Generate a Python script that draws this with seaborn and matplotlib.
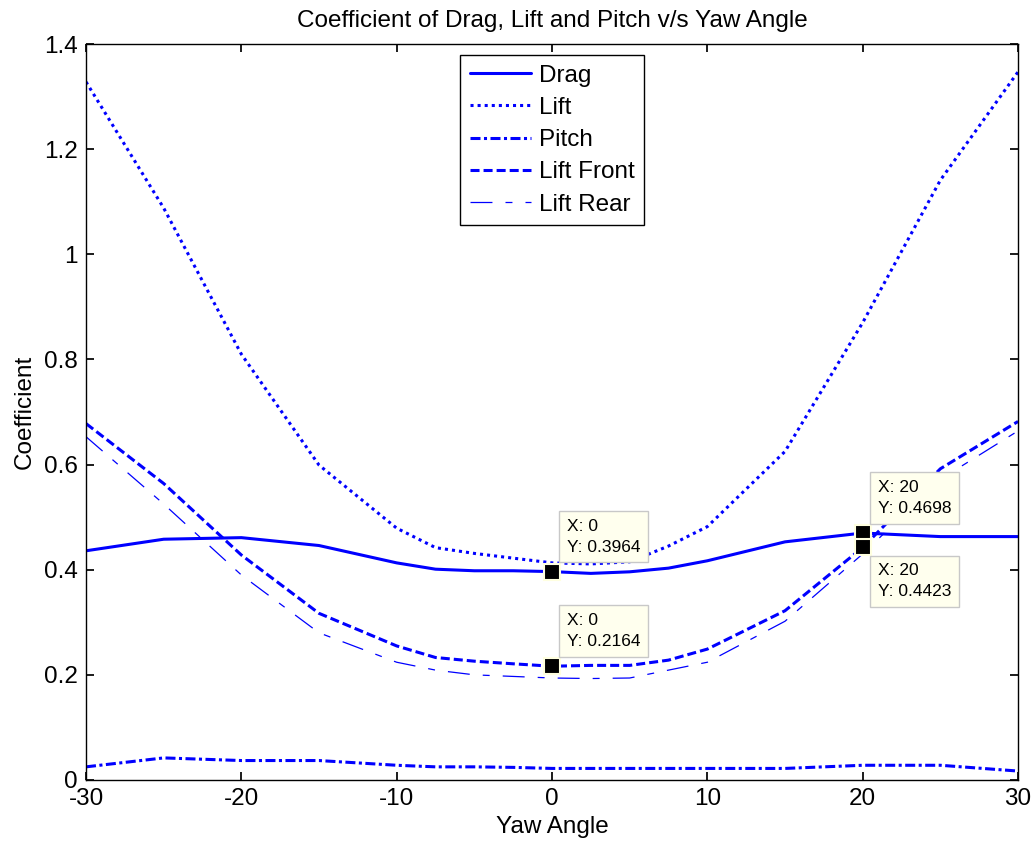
import matplotlib
matplotlib.use('Agg')
import matplotlib.pyplot as plt
import seaborn as sns

# yaw angles (deg) and coefficients
yaw = [-30, -25, -20, -15, -10, -7.5, -5, -2.5, 0, 2.5, 5, 7.5, 10, 15, 20, 25, 30]
drag = [0.436, 0.458, 0.461, 0.446, 0.413, 0.401, 0.398, 0.398, 0.3964,
        0.393, 0.396, 0.403, 0.417, 0.453, 0.4698, 0.463, 0.463]
lift = [1.328, 1.088, 0.81, 0.599, 0.479, 0.442, 0.431, 0.422, 0.413,
        0.411, 0.415, 0.445, 0.482, 0.625, 0.87, 1.141, 1.347]
pitch = [0.025, 0.042, 0.037, 0.037, 0.028, 0.025, 0.025, 0.024, 0.022,
         0.022, 0.022, 0.022, 0.022, 0.022, 0.028, 0.028, 0.017]
lift_front = [0.678, 0.564, 0.428, 0.317, 0.255, 0.233, 0.226, 0.221, 0.2164,
              0.218, 0.218, 0.228, 0.249, 0.322, 0.4423, 0.592, 0.682]
lift_rear = [0.653, 0.525, 0.39, 0.28, 0.224, 0.209, 0.2, 0.197, 0.194,
             0.193, 0.194, 0.209, 0.224, 0.302, 0.43, 0.572, 0.664]

# data cursors: (x, y, placement of the tip)
cursors = [(0, 0.3964, 'above'), (0, 0.2164, 'above'),
           (20, 0.4698, 'above'), (20, 0.4423, 'below')]

sns.set_theme(style='ticks', rc={
    'xtick.direction': 'in', 'ytick.direction': 'in',
    'xtick.top': True, 'ytick.right': True,
    'xtick.major.size': 5.5, 'ytick.major.size': 5.5,
    'axes.linewidth': 1.0, 'axes.edgecolor': 'black',
    'text.color': 'black', 'axes.labelcolor': 'black',
    'xtick.color': 'black', 'ytick.color': 'black',
    'lines.scale_dashes': False, 'axes.unicode_minus': False,
})
plt.rcParams['font.family'] = ['Liberation Sans', 'DejaVu Sans']

fig = plt.figure(figsize=(10.35, 8.48), dpi=100)
ax = fig.add_axes([0.0831, 0.0802, 0.9005, 0.8679])

fs = 17.5
blue = '#0000ff'
sns.lineplot(x=yaw, y=drag, ax=ax, color=blue, lw=2.2, label='Drag')
sns.lineplot(x=yaw, y=lift, ax=ax, color=blue, lw=2.2, label='Lift',
             linestyle=(0, (2.2, 2.9)))
sns.lineplot(x=yaw, y=pitch, ax=ax, color=blue, lw=2.2, label='Pitch',
             linestyle=(0, (7.2, 2.5, 2.2, 2.5)))
sns.lineplot(x=yaw, y=lift_front, ax=ax, color=blue, lw=2.2, label='Lift Front',
             linestyle=(0, (6.5, 2.9)))
sns.lineplot(x=yaw, y=lift_rear, ax=ax, color=blue, lw=0.9, label='Lift Rear',
             linestyle=(0, (15.8, 9.4, 5.0, 9.4)))

ax.set_xlim(-30, 30)
ax.set_ylim(0, 1.4)
ax.set_xticks(range(-30, 31, 10))
ax.set_yticks([0, 0.2, 0.4, 0.6, 0.8, 1.0, 1.2, 1.4])
ax.set_yticklabels(['%g' % v for v in ax.get_yticks()])
ax.tick_params(labelsize=fs, pad=6)

ax.set_title('Coefficient of Drag, Lift and Pitch v/s Yaw Angle', fontsize=fs, pad=12)
ax.set_xlabel('Yaw Angle', fontsize=fs, labelpad=4)
ax.set_ylabel('Coefficient', fontsize=fs, labelpad=6)

leg = ax.legend(loc='upper center', fontsize=fs, fancybox=False, framealpha=1,
                edgecolor='black', handlelength=2.55, handletextpad=0.3,
                labelspacing=0.42, borderaxespad=0.45, borderpad=0.4)
leg.get_frame().set_linewidth(1.0)

for cx, cy, place in cursors:
    ax.plot([cx], [cy], marker='s', ms=11, mfc='black', mec='#ffffe0', mew=1.5,
            ls='none', zorder=5)
    txt = 'X: %g\nY: %.4f' % (cx, cy)
    off = (15, 17) if place == 'above' else (15, -16)
    va = 'bottom' if place == 'above' else 'top'
    ax.annotate(txt, (cx, cy), xytext=off, textcoords='offset pixels',
                ha='left', va=va, fontsize=12.5, linespacing=1.5,
                bbox=dict(boxstyle='square,pad=0.45', fc='#ffffee', ec='#c8c8c8', lw=1),
                zorder=6)

fig.savefig('out.png', dpi=100)
